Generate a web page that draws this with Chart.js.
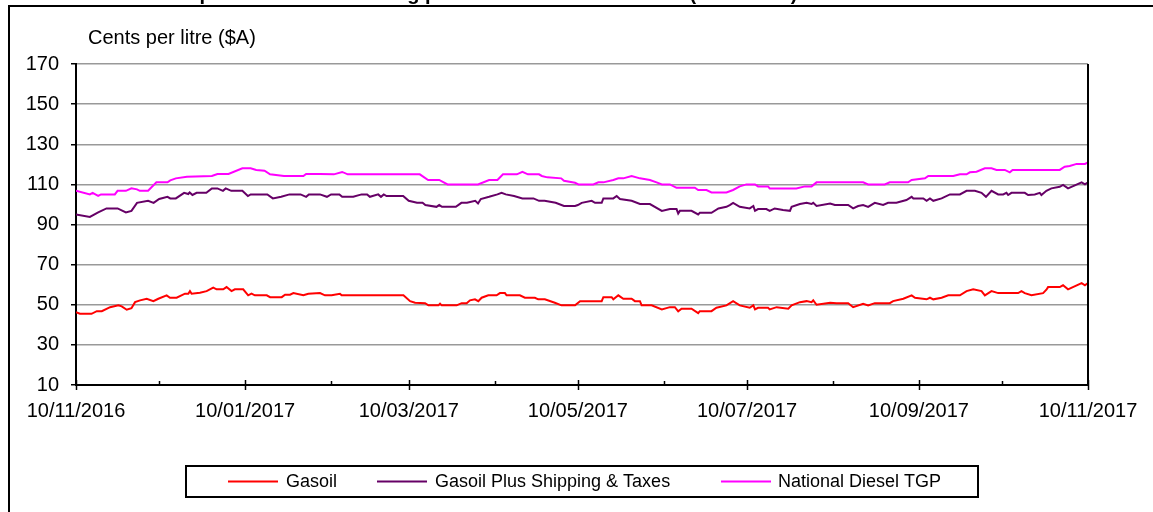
<!DOCTYPE html>
<html>
<head>
<meta charset="utf-8">
<script src="https://cdn.jsdelivr.net/npm/chart.js@4.4.0/dist/chart.umd.min.js"></script>
<style>
  html, body { margin: 0; padding: 0; background: #fff; overflow: hidden; }
</style>
</head>
<body>
<canvas id="chart" width="1153" height="512"></canvas>
<script>
const titleText = 'Comparison of oil including port and terminal tax levels (cents/litre)';
const unitText = 'Cents per litre ($A)';

// x values are days since 10/11/2016
const tickDays = [0, 61, 120, 181, 242, 304, 365];
const tickLabels = ['10/11/2016', '10/01/2017', '10/03/2017', '10/05/2017', '10/07/2017', '10/09/2017', '10/11/2017'];
const minorDays = [30, 92, 151, 212, 273, 334];

const gasoilDays = [
  0, 1.4, 5.6, 7.5, 9.3, 12.3, 15.3, 16.5, 18.3, 20,
  21.3, 23.1, 25.5, 27.9, 29.7, 32.7, 33.9, 36.3, 39.3, 40.5,
  41.1, 41.7, 44.7, 47.1, 49.5, 50.7, 53.1, 54.3, 56.1, 57.3,
  60.3, 62.1, 63.3, 64.5, 68.8, 70, 74.2, 75.4, 77.2, 78.4,
  82, 83.8, 88, 89.8, 92.2, 95.2, 95.8, 118.1, 120.5, 122.3,
  125.9, 127.1, 130.7, 131.3, 131.9, 137.3, 139.1, 140.9, 142.1, 143.9,
  145.1, 146.3, 148.7, 151.7, 152.9, 154.7, 155.3, 160.1, 161.9, 165.5,
  166.7, 169.1, 172.7, 175.1, 180, 181.8, 189.6, 190.2, 193.2, 193.8,
  195.6, 197.4, 200.4, 201.6, 203.4, 204, 207.6, 211.3, 214.2, 216,
  217.2, 218.4, 222, 224.4, 225, 229.2, 231, 234.6, 237, 239.4,
  243, 244.3, 244.9, 246, 249.6, 250.2, 252.7, 256.9, 258.1, 261.1,
  263.5, 265.3, 265.9, 267.1, 272, 274.3, 278.5, 280.3, 283.9, 285.7,
  288.1, 293.5, 294.7, 298.4, 301.4, 302.6, 306.8, 308, 309.2, 312.2,
  314.6, 318.8, 321.2, 323.6, 326.6, 327.8, 330.2, 332.6, 339.8, 341,
  342.2, 344.6, 348.8, 350, 350.6, 354.8, 356, 357.8, 362.7, 363.9,
  365
];
const gasoilValues = [
  46.3, 45.5, 45.5, 46.8, 46.8, 48.8, 49.7, 49.2, 47.5, 48.3,
  51.3, 52.2, 53, 51.8, 53, 54.7, 53.5, 53.5, 55.5, 55.5,
  56.8, 55.5, 56, 56.8, 58.5, 57.7, 57.7, 58.8, 56.8, 57.7,
  57.7, 54.7, 55.5, 54.7, 54.7, 53.8, 53.8, 55, 55, 55.8,
  54.7, 55.5, 55.8, 54.7, 54.7, 55.5, 54.7, 54.7, 51.8, 51,
  50.8, 49.7, 49.7, 50.5, 49.7, 49.7, 50.8, 50.8, 52.2, 52.7,
  51.8, 53.5, 54.7, 54.7, 55.8, 55.8, 54.7, 54.7, 53.5, 53.5,
  52.7, 52.7, 51, 49.7, 49.7, 51.8, 51.8, 53.8, 53.8, 52.7,
  54.7, 53, 53, 51.8, 51.8, 49.7, 49.7, 47.7, 48.8, 48.8,
  46.7, 48, 48, 45.8, 46.8, 46.8, 48.5, 49.7, 51.8, 49.7,
  48.5, 49.7, 47.7, 48.5, 48.5, 47.7, 48.8, 48, 49.7, 51.3,
  51.8, 51.3, 52.2, 50, 51, 50.8, 50.8, 48.8, 50.5, 49.7,
  50.8, 50.8, 51.8, 53, 54.7, 53.5, 52.7, 53.5, 52.7, 53.5,
  54.7, 54.7, 56.8, 57.7, 56.8, 54.7, 56.8, 55.8, 55.8, 56.8,
  55.8, 54.7, 55.8, 57.5, 58.8, 58.8, 59.7, 57.7, 60.8, 59.7,
  60.8
];

const shippingDays = [
  0, 5, 8, 11, 15, 18, 20, 22, 26, 28,
  30, 33, 34, 36, 39, 40.5, 41, 42, 43.5, 47,
  49, 51, 53, 54, 56, 60, 62, 63, 69, 71,
  74, 77, 81, 83, 84, 88, 90.5, 92, 95, 96,
  100, 103, 105, 106, 109, 110, 111, 112, 118, 120,
  123, 125, 126, 130, 131, 132, 137, 139, 141, 144,
  145, 146, 149, 152, 153.5, 155, 158, 161, 165, 167,
  169, 173, 176, 180, 181, 182.4, 186, 187.2, 189.6, 190.2,
  193.8, 195, 196.2, 200.4, 203.4, 207, 211.3, 214.2, 216.6, 217.2,
  217.8, 222, 224.4, 225, 229.2, 231.7, 234.6, 235.8, 237, 239.4,
  243, 244.3, 244.9, 246, 249, 250.2, 252, 255, 257.5, 258.1,
  261.1, 263.5, 265.3, 265.9, 267.1, 272, 273.7, 278.5, 280.3, 282.1,
  283.9, 285.7, 288.1, 291.1, 292.9, 295.9, 299.5, 301.4, 302, 305.6,
  306.8, 308, 309.2, 312.2, 315.2, 318.8, 321.2, 324.2, 326.6, 328.2,
  330.2, 332.6, 334.4, 335.6, 336.2, 337.4, 342.2, 343.4, 345.8, 347.6,
  348.2, 350, 351.8, 354.8, 356, 357.8, 362.7, 363.9, 365
];
const shippingValues = [
  95, 93.8, 96, 98, 98, 96, 96.8, 100.8, 101.8, 100.8,
  102.7, 103.8, 103, 103, 105.8, 105.2, 106, 104.7, 105.8, 105.8,
  108, 108, 106.8, 108, 106.8, 106.8, 104.2, 105, 105, 103,
  103.8, 105, 105, 103.8, 105, 105, 103.8, 105, 105, 103.8,
  103.8, 105, 105, 103.8, 105, 103.8, 105, 104.2, 104.2, 101.8,
  100.8, 100.8, 99.7, 98.8, 99.7, 98.8, 98.8, 100.8, 100.8, 101.8,
  100.5, 102.7, 103.8, 105, 105.8, 105, 104.2, 103, 103, 101.8,
  101.8, 100.8, 99.2, 99.2, 99.7, 100.8, 101.8, 100.8, 100.8, 103,
  103, 104.2, 102.7, 101.8, 100.2, 100.2, 96.8, 97.7, 97.7, 95.5,
  96.8, 96.8, 95, 95.8, 95.8, 98, 98.8, 99.7, 100.8, 98.8,
  98, 99.2, 96.8, 97.7, 97.7, 96.8, 98, 97.2, 96.8, 98.8,
  100.2, 100.8, 100.2, 100.8, 99.2, 100.5, 99.7, 99.7, 98, 99.2,
  99.7, 98.8, 100.8, 99.7, 100.8, 100.8, 102.2, 103.8, 103, 103,
  101.8, 103, 101.8, 103, 105, 105, 106.8, 106.8, 105.8, 103.8,
  106.8, 105, 105, 105.8, 104.7, 105.8, 105.8, 104.7, 105, 105.8,
  104.7, 106.8, 108, 108.8, 109.7, 108, 111, 110, 111
];

const tgpDays = [
  0, 5, 6, 8, 9, 14, 15, 18, 20, 22,
  23, 26, 29, 33, 34, 36, 40, 49, 51, 55,
  60, 63, 65, 68, 70, 75, 82, 83, 88, 93,
  96, 98, 124, 127, 131, 134, 145, 149, 152, 154,
  159, 161, 163, 167, 168, 170, 175, 176, 180, 181.2,
  186.6, 188.4, 190.2, 193.8, 195.6, 197.4, 200.4, 203.4, 207, 209.4,
  211.3, 214.2, 216.6, 223.2, 224.4, 227.4, 229.2, 234.6, 237, 239.4,
  241.8, 244.9, 246, 249.6, 250.2, 259.8, 262.9, 265.3, 267.1, 272,
  283.9, 285.7, 291.7, 293.5, 300.1, 301.4, 306.2, 307.4, 316.4, 318.8,
  321.2, 322.4, 324.8, 327.8, 330.2, 332, 335, 336.8, 337.8, 354.8,
  356.6, 358.4, 360.9, 363.9, 365
];
const tgpValues = [
  106.8, 105, 105.8, 104.3, 105, 105, 106.8, 106.8, 108, 107.5,
  106.8, 106.8, 111, 111, 112, 113, 113.8, 114.2, 115.2, 115.2,
  118, 118, 117.2, 116.8, 115, 114.2, 114.2, 115.2, 115.2, 115,
  116.2, 115, 115, 112.2, 112.2, 110, 110, 112.2, 112.2, 115,
  115, 116.3, 115, 115, 114.2, 113.5, 113, 111.8, 110.8, 110,
  110, 111, 111, 112.2, 113, 113, 114.2, 113, 112.2, 111,
  110, 110, 108.3, 108.3, 107.2, 107.2, 106, 106, 107.2, 109,
  110, 110, 109, 109, 108, 108, 109, 109, 111, 111,
  111, 110, 110, 111, 111, 112.2, 113, 114.2, 114.2, 115,
  115, 116, 116.3, 118, 118, 117.2, 117.2, 116, 117.2, 117.2,
  118.8, 119.2, 120.2, 120.2, 121
];

const toPoints = (days, vals) => days.map((d, i) => ({ x: d, y: vals[i] }));

Chart.defaults.font.family = '"Liberation Sans", Arial, sans-serif';
Chart.defaults.color = '#000';

function line(ctx, x1, y1, x2, y2) {
  ctx.beginPath();
  ctx.moveTo(x1, y1);
  ctx.lineTo(x2, y2);
  ctx.stroke();
}

// frame, clipped title, unit label, x tick marks and boxed legend
const decorations = {
  id: 'decorations',
  afterDraw(chart) {
    const ctx = chart.ctx;
    const area = chart.chartArea;
    const xs = chart.scales.x;
    ctx.save();
    ctx.strokeStyle = '#000';
    ctx.lineWidth = 2;
    ctx.strokeRect(9, 6, 1200, 600);

    ctx.fillStyle = '#000';
    ctx.textAlign = 'left';
    ctx.textBaseline = 'alphabetic';
    ctx.font = 'bold 20px "Liberation Sans", Arial, sans-serif';
    ctx.fillText(titleText, 155, 0);
    ctx.font = '20px "Liberation Sans", Arial, sans-serif';
    ctx.fillText(unitText, 88, 44);

    ctx.lineWidth = 2;
    line(ctx, area.right, area.top, area.right, area.bottom + 1);

    ctx.lineWidth = 1.5;
    tickDays.forEach(d => {
      const px = Math.round(xs.getPixelForValue(d)) + 0.5;
      line(ctx, px, area.bottom - 5, px, area.bottom + 5);
    });
    minorDays.forEach(d => {
      const px = Math.round(xs.getPixelForValue(d)) + 0.5;
      line(ctx, px, area.bottom - 4, px, area.bottom);
    });

    ctx.lineWidth = 2;
    ctx.strokeRect(186, 466, 792, 31);
    const spots = [[228, 286], [377, 435], [721, 778]];
    ctx.font = '18px "Liberation Sans", Arial, sans-serif';
    ctx.textBaseline = 'middle';
    chart.data.datasets.forEach((ds, i) => {
      ctx.strokeStyle = ds.borderColor;
      ctx.lineWidth = 2;
      line(ctx, spots[i][0], 481.5, spots[i][0] + 50, 481.5);
      ctx.fillText(ds.label, spots[i][1], 482);
    });
    ctx.restore();
  }
};

new Chart(document.getElementById('chart'), {
  type: 'line',
  data: {
    datasets: [
      {
        label: 'Gasoil',
        data: toPoints(gasoilDays, gasoilValues),
        borderColor: '#ff0000',
        borderWidth: 2,
        pointRadius: 0,
        fill: false,
      },
      {
        label: 'Gasoil Plus Shipping & Taxes',
        data: toPoints(shippingDays, shippingValues),
        borderColor: '#660066',
        borderWidth: 2,
        pointRadius: 0,
        fill: false,
      },
      {
        label: 'National Diesel TGP',
        data: toPoints(tgpDays, tgpValues),
        borderColor: '#ff00ff',
        borderWidth: 2,
        pointRadius: 0,
        fill: false,
      },
    ],
  },
  options: {
    responsive: false,
    animation: false,
    elements: { line: { tension: 0 } },
    layout: { padding: { top: 64, right: 65, left: 0, bottom: 0 } },
    scales: {
      x: {
        type: 'linear',
        min: 0,
        max: 365,
        afterFit: s => { s.height = 127; },
        afterBuildTicks: s => { s.ticks = tickDays.map(v => ({ value: v })); },
        ticks: {
          autoSkip: false,
          maxRotation: 0,
          padding: 14,
          font: { size: 20 },
          callback: v => tickLabels[tickDays.indexOf(v)],
        },
        grid: { display: false, drawTicks: false },
        border: { display: true, color: '#000', width: 2 },
      },
      y: {
        min: 10,
        max: 170,
        afterFit: s => { s.width = 76; },
        ticks: { stepSize: 20, padding: 12, font: { size: 20 } },
        grid: {
          color: c => (c.tick && c.tick.value === 10 ? 'rgba(0,0,0,0)' : '#999999'),
          lineWidth: 1.5,
          tickColor: '#000',
          tickLength: 5,
        },
        border: { display: true, color: '#000', width: 2 },
      },
    },
    plugins: {
      legend: { display: false },
      title: { display: false },
      tooltip: { enabled: false },
    },
  },
  plugins: [decorations],
});
</script>
</body>
</html>
